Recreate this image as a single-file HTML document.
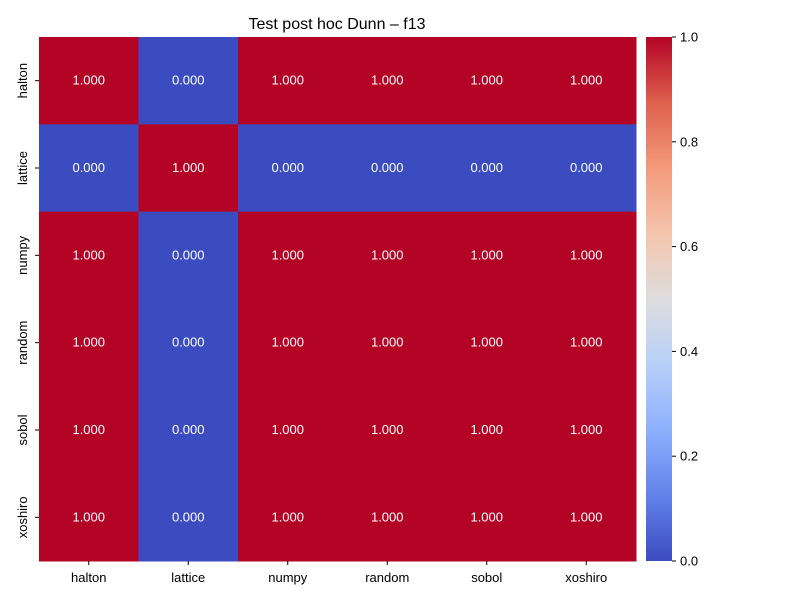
<!DOCTYPE html>
<html><head><meta charset="utf-8"><style>
body{margin:0;background:#fff;font-family:"Liberation Sans","DejaVu Sans",sans-serif;}
</style></head><body>
<svg id="chart" width="800" height="600" xmlns="http://www.w3.org/2000/svg">
<defs>
<linearGradient id="cw" x1="0" y1="1" x2="0" y2="0">
<stop offset="0" stop-color="#3b4cc0"/><stop offset="0.125" stop-color="#6282ea"/>
<stop offset="0.25" stop-color="#8db0fe"/><stop offset="0.375" stop-color="#b8d0f9"/>
<stop offset="0.5" stop-color="#dddddd"/><stop offset="0.625" stop-color="#f5c4ad"/>
<stop offset="0.75" stop-color="#f49a7b"/><stop offset="0.875" stop-color="#de604d"/>
<stop offset="1" stop-color="#b40426"/>
</linearGradient>
</defs>
<text x="337" y="29" text-anchor="middle" font-size="16" fill="#000">Test post hoc Dunn – f13</text>
<g id="cells"></g>
<rect x="646" y="37" width="26" height="524" fill="url(#cw)"/>
<g id="cbticks"></g>
</svg>
<script>
const categories = ["halton","lattice","numpy","random","sobol","xoshiro"];
const values = [
 [1,0,1,1,1,1],
 [0,1,0,0,0,0],
 [1,0,1,1,1,1],
 [1,0,1,1,1,1],
 [1,0,1,1,1,1],
 [1,0,1,1,1,1]
];
const cbTickLabels = ["0.0","0.2","0.4","0.6","0.8","1.0"];
const NS="http://www.w3.org/2000/svg";
const X0=39,X1=636,Y0=37,Y1=561;
const cw=(X1-X0)/categories.length, ch=(Y1-Y0)/categories.length;
function xPos(i){return X0+i*cw;}
function yPos(j){return Y0+j*ch;}
function cbY(v){return Y1-(v-0)/(1-0)*(Y1-Y0);}
function color(v){
 const stops=[[59,76,192],[98,130,234],[141,176,254],[184,208,249],[221,221,221],[245,196,173],[244,154,123],[222,96,77],[180,4,38]];
 const t=Math.max(0,Math.min(1,v))*8, i=Math.min(7,Math.floor(t)), f=t-i;
 const c=stops[i].map((a,k)=>Math.round(a+(stops[i+1][k]-a)*f));
 return `rgb(${c.join(',')})`;
}
const g=document.getElementById('cells');
function mk(tag,attrs,parent,text){const e=document.createElementNS(NS,tag);for(const k in attrs)e.setAttribute(k,attrs[k]);if(text!==undefined)e.textContent=text;parent.appendChild(e);return e;}
values.forEach((row,j)=>row.forEach((v,i)=>{
 const r=mk('rect',{x:xPos(i),y:yPos(j),width:cw+0.5,height:ch+0.5,fill:color(v)},g);
 
 
 const t=mk('text',{x:xPos(i)+cw/2,y:yPos(j)+ch/2+4,'text-anchor':'middle','font-size':13,fill:'#fff'},g,v.toFixed(3));
 
 
}));
categories.forEach((c,i)=>{
 mk('line',{x1:xPos(i)+cw/2,x2:xPos(i)+cw/2,y1:Y1,y2:Y1+4,stroke:'#000'},g);
 const t=mk('text',{x:xPos(i)+cw/2,y:Y1+21,'text-anchor':'middle','font-size':13,fill:'#000'},g,c);
 
 
 const yc=yPos(i)+ch/2;
 mk('line',{x1:X0-4,x2:X0,y1:yc,y2:yc,stroke:'#000'},g);
 const u=mk('text',{x:0,y:0,'text-anchor':'middle','font-size':13,fill:'#000',transform:`translate(${X0-12},${yc}) rotate(-90)`},g,c);
 
 
});
const cb=document.getElementById('cbticks');
cbTickLabels.forEach(l=>{
 const y=cbY(parseFloat(l));
 mk('line',{x1:672,x2:676,y1:y,y2:y,stroke:'#000'},cb);
 const t=mk('text',{x:680,y:y+4.5,'font-size':13,fill:'#000'},cb,l);
 
 
});
</script>
</body></html>
